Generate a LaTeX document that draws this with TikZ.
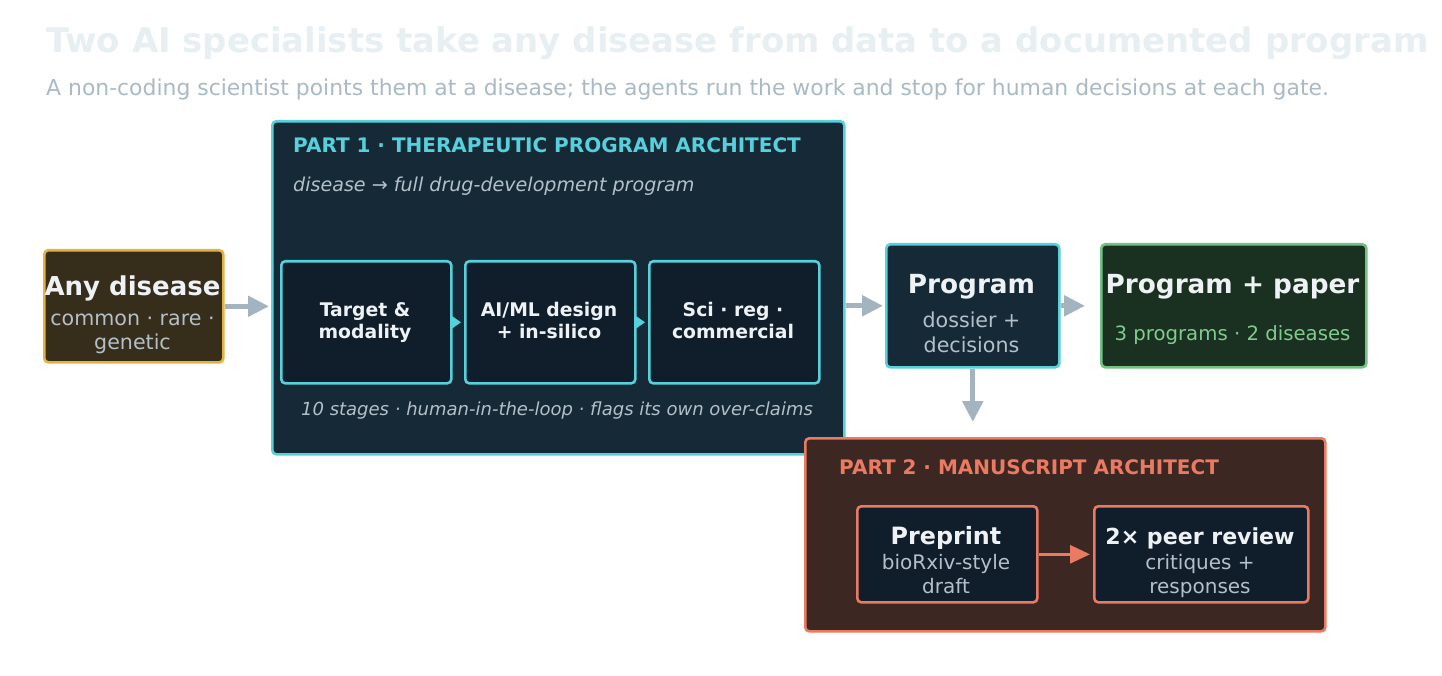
\documentclass[tikz,border=0pt]{standalone}
\usepackage{fontspec}
\setmainfont{DejaVu Sans}
\usetikzlibrary{arrows.meta}
\definecolor{titlec}{HTML}{E7EFF3}
\definecolor{subc}{HTML}{A9BAC6}
\definecolor{arrowgray}{HTML}{A3B3BF}
\definecolor{anyfill}{HTML}{372D1B}
\definecolor{anydraw}{HTML}{E3B341}
\definecolor{pfill}{HTML}{152A36}
\definecolor{cyanc}{HTML}{56D0DA}
\definecolor{innerfill}{HTML}{101E2B}
\definecolor{whitec}{HTML}{EEF2F5}
\definecolor{grayc}{HTML}{B4C0C9}
\definecolor{greenfill}{HTML}{1A3020}
\definecolor{greendraw}{HTML}{72C286}
\definecolor{greentext}{HTML}{80CB8E}
\definecolor{p2fill}{HTML}{3C2723}
\definecolor{salmon}{HTML}{EB7A62}
\begin{document}
\begin{tikzpicture}[x=1pt,y=-1pt,
  box/.style={draw, line width=2.6pt, rounded corners=4pt, inner sep=0pt, anchor=north west},
  lbl/.style={anchor=base, inner sep=0pt},
  lblw/.style={anchor=base west, inner sep=0pt},
  bigt/.style={lbl, font=\fontsize{26.3}{30}\selectfont\bfseries, text=whitec},
  midt/.style={lbl, font=\fontsize{23.8}{28}\selectfont\bfseries, text=whitec},
  stept/.style={lbl, font=\fontsize{18.8}{22}\selectfont\bfseries, text=whitec},
  subt/.style={lbl, font=\fontsize{20.6}{24}\selectfont, text=grayc},
  garrow/.style={draw=arrowgray, line width=5pt, -{Triangle[length=21pt,width=20pt]}},
  carrow/.style={draw=cyanc, line width=2pt, -{Triangle[length=9pt,width=12pt]}},
  sarrow/.style={draw=salmon, line width=3pt, -{Triangle[length=20pt,width=18pt]}}
]
\useasboundingbox[fill=white] (0,0) rectangle (1442,676);

% title
\node[lblw, font=\fontsize{33.9}{40}\selectfont\bfseries, text=titlec] (title) at (46,53) {Two AI specialists take any disease from data to a documented program};
\node[lblw, font=\fontsize{21.9}{26}\selectfont, text=subc] (subtitle) at (46,96) {A non-coding scientist points them at a disease; the agents run the work and stop for human decisions at each gate.};

% any disease
\node[box, fill=anyfill, draw=anydraw, minimum width=179pt, minimum height=112pt] (any) at (43,249) {};
\node[bigt, font=\fontsize{26}{30}\selectfont\bfseries] (anyT) at (132.5,295) {Any disease};
\node[subt] (anyS1) at (132.5,325) {common · rare ·};
\node[subt] (anyS2) at (132.5,349) {genetic};

% part 1
\node[box, fill=pfill, draw=cyanc, minimum width=572pt, minimum height=333pt] (part1) at (271,120) {};
\node[lblw, font=\fontsize{20}{24}\selectfont\bfseries, text=cyanc] (p1head) at (293,153) {PART 1 · THERAPEUTIC PROGRAM ARCHITECT};
\node[lblw, font=\fontsize{19.1}{23}\selectfont\itshape, text=grayc] (p1sub) at (293,192) {disease → full drug-development program};
\node[lbl, font=\fontsize{18}{21}\selectfont\itshape, text=grayc] (p1foot) at (557,415) {10 stages · human-in-the-loop · flags its own over-claims};

\node[box, fill=innerfill, draw=cyanc, minimum width=170pt, minimum height=122pt] (s1) at (280,260) {};
\node[box, fill=innerfill, draw=cyanc, minimum width=170pt, minimum height=122pt] (s2) at (464,260) {};
\node[box, fill=innerfill, draw=cyanc, minimum width=170pt, minimum height=122pt] (s3) at (648,260) {};
\node[stept] (s1a) at (365,316) {Target \&};
\node[stept] (s1b) at (365,338) {modality};
\node[stept] (s2a) at (549,316) {AI/ML design};
\node[stept] (s2b) at (549,338) {+ in-silico};
\node[stept] (s3a) at (733,316) {Sci · reg ·};
\node[stept] (s3b) at (733,338) {commercial};
\draw[carrow, shorten >=3pt] (s1.east) -- (s2.west);
\draw[carrow, shorten >=3pt] (s2.east) -- (s3.west);

% program
\node[box, fill=pfill, draw=cyanc, minimum width=173pt, minimum height=123pt] (prog) at (885,243) {};
\node[bigt] (progT) at (971.5,293) {Program};
\node[subt] (progS1) at (971.5,327) {dossier +};
\node[subt] (progS2) at (971.5,352) {decisions};

% program + paper
\node[box, fill=greenfill, draw=greendraw, minimum width=265pt, minimum height=123pt] (paper) at (1100,243) {};
\node[bigt] (paperT) at (1232.5,293) {Program + paper};
\node[lbl, font=\fontsize{19.7}{24}\selectfont, text=greentext] (paperS) at (1232.5,340) {3 programs · 2 diseases};

% connectors
\draw[garrow, shorten >=2pt] (any.east) -- (any.east -| part1.west);
\draw[garrow, shorten >=2pt] (prog.west -| part1.east) -- (prog.west);
\draw[garrow, shorten >=15pt] (prog.east) -- (paper.west);

% part 2
\node[box, fill=p2fill, draw=salmon, minimum width=520pt, minimum height=193pt] (part2) at (804,437) {};
\draw[garrow, shorten >=15pt] (prog.south) -- (prog.south |- part2.north);
\node[lblw, font=\fontsize{20}{24}\selectfont\bfseries, text=salmon] (p2head) at (839,474) {PART 2 · MANUSCRIPT ARCHITECT};
\node[box, fill=innerfill, draw=salmon, minimum width=180pt, minimum height=96pt] (pre) at (856,505) {};
\node[box, fill=innerfill, draw=salmon, minimum width=214pt, minimum height=96pt] (rev) at (1093,505) {};
\node[midt] (preT) at (946,544) {Preprint};
\node[subt, font=\fontsize{20}{24}\selectfont] (preS1) at (946,569) {bioRxiv-style};
\node[subt, font=\fontsize{20}{24}\selectfont] (preS2) at (946,593) {draft};
\node[midt, font=\fontsize{22.1}{26}\selectfont\bfseries] (revT) at (1200,544) {2× peer review};
\node[subt, font=\fontsize{20}{24}\selectfont] (revS1) at (1200,569) {critiques +};
\node[subt, font=\fontsize{20}{24}\selectfont] (revS2) at (1200,593) {responses};
\draw[sarrow, shorten >=3pt] (pre.east) -- (rev.west);
\end{tikzpicture}
\end{document}
